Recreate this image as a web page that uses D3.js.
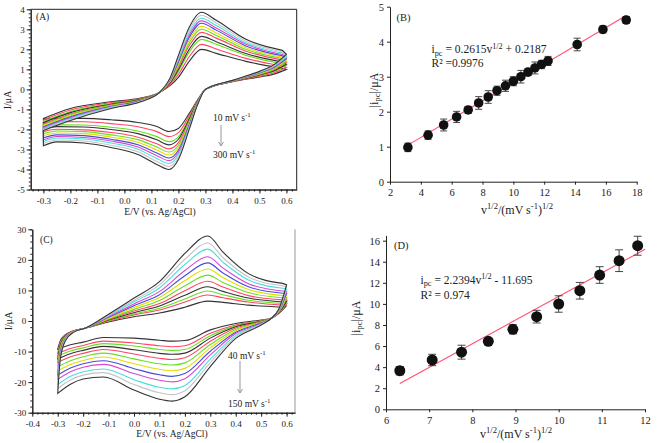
<!DOCTYPE html>
<html><head><meta charset="utf-8">
<script src="https://cdn.jsdelivr.net/npm/d3@7"></script>
<style>body{margin:0;background:#fff}</style>
</head><body>
<script>
// ---------- DATA ----------
const CV_COLORS = ["#333333","#ff4466","#66e020","#333333","#ff4466","#66e020","#e4dc00","#4a4ad8","#d548d5","#48dede","#c4c4c4","#333333"];

// Panel A : CVs 10 -> 300 mV/s
const A_E_fwd = [-0.3,-0.2,-0.05,0.06,0.13,0.17,0.2,0.24,0.285,0.34,0.45,0.585];
const A_I_fwd = [
[-1.45,-0.95,-0.62,-0.43,-0.15,0.20,0.60,1.40,2.00,1.80,1.40,1.05],
[-1.53,-1.03,-0.66,-0.46,-0.15,0.25,0.75,1.63,2.25,2.02,1.55,1.17],
[-1.61,-1.11,-0.71,-0.48,-0.15,0.31,0.90,1.86,2.50,2.25,1.70,1.29],
[-1.66,-1.16,-0.74,-0.50,-0.15,0.34,0.99,2.00,2.65,2.38,1.79,1.37],
[-1.73,-1.23,-0.77,-0.52,-0.15,0.38,1.11,2.18,2.85,2.56,1.91,1.46],
[-1.77,-1.27,-0.80,-0.53,-0.15,0.42,1.19,2.32,3.00,2.69,1.99,1.54],
[-1.82,-1.32,-0.82,-0.55,-0.15,0.45,1.28,2.45,3.15,2.82,2.08,1.61],
[-1.87,-1.37,-0.85,-0.56,-0.15,0.48,1.37,2.59,3.30,2.96,2.17,1.68],
[-1.91,-1.41,-0.87,-0.58,-0.15,0.51,1.45,2.71,3.42,3.07,2.25,1.74],
[-1.95,-1.45,-0.90,-0.59,-0.15,0.54,1.52,2.83,3.55,3.19,2.32,1.81],
[-2.00,-1.50,-0.92,-0.60,-0.15,0.57,1.61,2.96,3.70,3.32,2.41,1.88],
[-2.05,-1.55,-0.95,-0.62,-0.15,0.60,1.70,3.10,3.85,3.45,2.50,1.95]
];
const A_E_rev = [0.6,0.55,0.5,0.4,0.3,0.27,0.24,0.2,0.165,0.12,0.05,-0.05,-0.15,-0.25,-0.3];
const A_I_rev = [
[1.00,0.75,0.62,0.38,0,-0.55,-1.20,-1.95,-2.10,-1.85,-1.65,-1.52,-1.45,-1.45,-1.50],
[1.10,0.81,0.66,0.39,0,-0.58,-1.31,-2.16,-2.36,-2.11,-1.87,-1.71,-1.62,-1.61,-1.68],
[1.20,0.87,0.70,0.40,0,-0.62,-1.42,-2.37,-2.61,-2.36,-2.08,-1.89,-1.78,-1.77,-1.86],
[1.26,0.91,0.72,0.40,0,-0.64,-1.48,-2.49,-2.77,-2.52,-2.21,-2.00,-1.88,-1.86,-1.96],
[1.35,0.96,0.75,0.41,0,-0.67,-1.57,-2.66,-2.97,-2.72,-2.39,-2.15,-2.02,-1.99,-2.11],
[1.40,0.99,0.77,0.42,0,-0.69,-1.63,-2.79,-3.13,-2.88,-2.51,-2.27,-2.11,-2.08,-2.21],
[1.47,1.03,0.79,0.42,0,-0.71,-1.70,-2.91,-3.28,-3.03,-2.64,-2.38,-2.21,-2.18,-2.32],
[1.53,1.07,0.82,0.43,0,-0.73,-1.76,-3.04,-3.43,-3.18,-2.77,-2.49,-2.31,-2.27,-2.42],
[1.58,1.10,0.84,0.43,0,-0.74,-1.82,-3.14,-3.56,-3.31,-2.88,-2.58,-2.40,-2.35,-2.52],
[1.63,1.13,0.86,0.44,0,-0.76,-1.87,-3.25,-3.70,-3.45,-2.99,-2.68,-2.48,-2.43,-2.61],
[1.69,1.16,0.88,0.44,0,-0.78,-1.94,-3.38,-3.85,-3.60,-3.12,-2.79,-2.58,-2.53,-2.71],
[1.75,1.20,0.90,0.45,0,-0.80,-2.00,-3.50,-4.00,-3.75,-3.25,-2.90,-2.68,-2.62,-2.82]
];
const A_xTicks = [-0.3,-0.2,-0.1,0,0.1,0.2,0.3,0.4,0.5,0.6];
const A_yTicks = [-5,-4,-3,-2,-1,0,1,2,3,4];
const A_rateLabels = ["10 mV s", "300 mV s"];

// Panel C : CVs 40 -> 150 mV/s
const C_E_fwd = [-0.3,-0.29,-0.27,-0.24,-0.19,-0.1,0.0,0.1,0.2,0.29,0.35,0.45,0.585];
const C_I_fwd = [
[-9.2,-6.5,-4.5,-3.3,-2.3,-0.3,1.4,2.6,4.5,6.5,6.1,5.2,4.5],
[-10.6,-7.1,-4.7,-3.3,-2.3,-0.1,2.0,3.6,6.2,8.5,7.6,6.2,5.2],
[-11.4,-7.4,-4.8,-3.4,-2.3,0.1,2.3,4.2,7.2,9.8,8.6,6.8,5.7],
[-12.4,-7.8,-4.9,-3.4,-2.3,0.3,2.7,4.9,8.4,11.2,9.7,7.5,6.2],
[-13.6,-8.3,-5.1,-3.5,-2.3,0.5,3.3,5.7,9.9,13.0,11.1,8.3,6.9],
[-15.0,-8.9,-5.3,-3.5,-2.3,0.7,3.8,6.7,11.5,15.0,12.6,9.3,7.6],
[-16.3,-9.5,-5.5,-3.5,-2.3,0.9,4.4,7.7,13.2,17.0,14.2,10.3,8.3],
[-17.7,-10.0,-5.7,-3.6,-2.3,1.2,5.0,8.6,14.8,19.0,15.7,11.2,9.1],
[-19.1,-10.6,-5.9,-3.6,-2.3,1.4,5.6,9.6,16.5,21.0,17.3,12.2,9.8],
[-20.8,-11.3,-6.1,-3.7,-2.3,1.7,6.3,10.8,18.5,23.5,19.2,13.4,10.7],
[-22.1,-11.9,-6.3,-3.7,-2.3,1.9,6.8,11.8,20.2,25.5,20.7,14.4,11.5],
[-23.7,-12.5,-6.5,-3.8,-2.3,2.2,7.5,12.9,22.1,27.8,22.5,15.5,12.3]
];
const C_E_rev = [0.6,0.57,0.54,0.5,0.4,0.3,0.2,0.15,0.1,0.0,-0.12,-0.2,-0.25,-0.3];
const C_I_rev = [
[5.0,2.5,0.9,0.3,-0.8,-2.9,-6.4,-6.6,-6.3,-5.6,-5.4,-6.9,-7.8,-9.2],
[5.6,2.6,0.9,0.1,-1.3,-4.0,-8.1,-8.4,-8.1,-7.2,-6.6,-8.0,-9.0,-10.6],
[6.1,2.7,0.9,0.1,-1.6,-4.8,-9.3,-9.6,-9.3,-8.2,-7.4,-8.8,-9.8,-11.4],
[6.5,2.8,0.9,-0.1,-1.9,-5.6,-10.5,-10.9,-10.6,-9.4,-8.3,-9.6,-10.7,-12.4],
[7.1,3.0,0.9,-0.2,-2.3,-6.6,-12.0,-12.6,-12.2,-10.8,-9.3,-10.6,-11.7,-13.6],
[7.7,3.1,0.9,-0.3,-2.8,-7.7,-13.7,-14.4,-14.0,-12.4,-10.5,-11.7,-13.0,-15.0],
[8.4,3.2,0.9,-0.5,-3.2,-8.8,-15.5,-16.3,-15.8,-14.0,-11.8,-12.9,-14.2,-16.3],
[9.0,3.4,0.9,-0.6,-3.7,-9.9,-17.2,-18.1,-17.6,-15.6,-13.0,-14.0,-15.4,-17.7],
[9.6,3.5,0.9,-0.8,-4.1,-11.1,-18.9,-19.9,-19.4,-17.2,-14.2,-15.1,-16.6,-19.1],
[10.4,3.7,0.9,-1.0,-4.7,-12.5,-21.1,-22.2,-21.7,-19.2,-15.7,-16.6,-18.1,-20.8],
[11.1,3.8,0.9,-1.1,-5.2,-13.6,-22.8,-24.1,-23.5,-20.8,-16.9,-17.7,-19.3,-22.1],
[11.8,4.0,0.9,-1.3,-5.7,-14.9,-24.8,-26.2,-25.6,-22.6,-18.3,-19.0,-20.7,-23.7]
];
const C_xTicks = [-0.4,-0.3,-0.2,-0.1,0,0.1,0.2,0.3,0.4,0.5,0.6];
const C_yTicks = [-30,-20,-10,0,10,20,30];
const C_rateLabels = ["40 mV s", "150 mV s"];

// Panel B : |ipc| vs v^1/2
const B_x   = [3.16,4.47,5.48,6.32,7.07,7.75,8.37,8.94,9.49,10.0,10.49,10.95,11.4,11.83,12.25,14.14,15.81,17.32];
const B_y   = [0.98,1.33,1.62,1.85,2.05,2.25,2.42,2.60,2.74,2.87,3.00,3.13,3.25,3.35,3.45,3.92,4.35,4.62];
const B_err = [0.12,0.12,0.17,0.16,0.10,0.18,0.18,0.13,0.16,0.13,0.18,0.10,0.17,0.12,0.13,0.18,0.10,0.10];
const B_slope = 0.2615, B_intercept = 0.2187;
const B_xTicks = [2,4,6,8,10,12,14,16,18];
const B_yTicks = [0,1,2,3,4,5];

// Panel D
const D_x   = [6.32,7.07,7.75,8.37,8.94,9.49,10.0,10.49,10.95,11.4,11.83];
const D_y   = [3.66,4.68,5.42,6.45,7.59,8.79,9.99,11.25,12.74,14.10,15.52];
const D_err = [0.40,0.54,0.66,0.27,0.43,0.60,0.78,0.79,0.79,1.03,0.90];
const D_slope = 2.2394, D_intercept = -11.695;
const D_xTicks = [6,7,8,9,10,11,12];
const D_yTicks = [0,2,4,6,8,10,12,14,16];

// ---------- DRAW ----------
const FONT = "'Liberation Serif','Times New Roman',serif";
const INK = "#222";
const svg = d3.select("body").append("svg")
  .attr("width", 661).attr("height", 443)
  .style("font-family", FONT);

function rich(sel, parts, size) {
  let shift = 0;
  parts.forEach(([t, k]) => {
    const target = k === "sup" ? -size * 0.38 : k === "sub" ? size * 0.22 : 0;
    sel.append("tspan").attr("dy", target - shift)
      .attr("font-size", k === "n" ? size : size * 0.72).text(t);
    shift = target;
  });
}

function styleAxis(g, fs) {
  g.attr("font-family", FONT).attr("font-size", fs);
  g.selectAll("path,line").attr("stroke", INK);
  g.selectAll("text").attr("fill", INK);
}

function cvPanel(o) {
  const x = d3.scaleLinear().domain(o.xDom).range(o.xRng);
  const y = d3.scaleLinear().domain(o.yDom).range(o.yRng);
  const g = svg.append("g");
  const xb = o.yRng[0], yl = o.xRng[0];
  // frame
  if (o.top) g.append("line").attr("x1", o.xRng[0]).attr("x2", o.xRng[1]).attr("y1", o.yRng[1]).attr("y2", o.yRng[1]).attr("stroke", INK);
  g.append("line").attr("x1", o.xRng[1]).attr("x2", o.xRng[1]).attr("y1", o.yRng[0]).attr("y2", o.yRng[1]).attr("stroke", o.rightColor || INK);
  // minor ticks
  const xm = d3.range(Math.ceil(o.xDom[0] / o.xMin) * o.xMin, o.xDom[1], o.xMin);
  const ym = d3.range(o.yDom[0], o.yDom[1] + 1e-9, o.yMin);
  styleAxis(g.append("g").attr("transform", `translate(0,${xb})`)
    .call(d3.axisBottom(x).tickValues(xm).tickSize(2).tickSizeOuter(0).tickFormat("")), 9);
  styleAxis(g.append("g").attr("transform", `translate(${yl},0)`)
    .call(d3.axisLeft(y).tickValues(ym).tickSize(2).tickSizeOuter(0).tickFormat("")), 9);
  // major axes
  styleAxis(g.append("g").attr("transform", `translate(0,${xb})`)
    .call(d3.axisBottom(x).tickValues(o.xTicks).tickSize(4).tickPadding(4).tickSizeOuter(0).tickFormat(d => d.toFixed(1))), 9);
  styleAxis(g.append("g").attr("transform", `translate(${yl},0)`)
    .call(d3.axisLeft(y).tickValues(o.yTicks).tickSize(4).tickPadding(2).tickSizeOuter(0).tickFormat(d => String(d))), 9);
  // curves
  const line = d3.line().x(d => x(d[0])).y(d => y(d[1])).curve(d3.curveMonotoneX);
  o.fwd.forEach((row, i) => {
    const up = o.Ef.map((e, j) => [e, row[j]]);
    const lo = o.Er.map((e, j) => [e, o.rev[i][j]]);
    const d = line(up) + line(lo).replace(/^M/, "L") + "Z";
    g.append("path").attr("d", d).attr("fill", "none")
      .attr("stroke", CV_COLORS[i]).attr("stroke-width", 1.1);
  });
  // labels
  g.append("text").attr("x", o.tag[0]).attr("y", o.tag[1]).attr("font-size", 9.5).attr("fill", INK).text(o.tagText);
  g.append("text").attr("x", o.xlab[0]).attr("y", o.xlab[1]).attr("text-anchor", "middle")
    .attr("font-size", 9.5).attr("fill", INK).text("E/V (vs. Ag/AgCl)");
  g.append("text").attr("transform", `translate(${o.ylab[0]},${o.ylab[1]}) rotate(-90)`)
    .attr("text-anchor", "middle").attr("font-size", 10).attr("fill", INK).text("I/μA");
  // rate annotation + arrow
  rich(g.append("text").attr("x", o.r1[0]).attr("y", o.r1[1]).attr("fill", INK), [[o.rates[0], "n"], ["-1", "sup"]], 9.5);
  rich(g.append("text").attr("x", o.r2[0]).attr("y", o.r2[1]).attr("fill", INK), [[o.rates[1], "n"], ["-1", "sup"]], 9.5);
  g.append("line").attr("x1", o.arrow[0]).attr("x2", o.arrow[0]).attr("y1", o.arrow[1]).attr("y2", o.arrow[2])
    .attr("stroke", "#999").attr("stroke-width", 1);
  g.append("path").attr("d", `M${o.arrow[0]-2.5},${o.arrow[2]-4} L${o.arrow[0]},${o.arrow[2]} L${o.arrow[0]+2.5},${o.arrow[2]-4}`)
    .attr("fill", "none").attr("stroke", "#999").attr("stroke-width", 1);
}

cvPanel({
  xDom: [-0.347, 0.638], xRng: [30.7, 296.7], yDom: [-5, 4], yRng: [189.5, 9.3],
  xTicks: A_xTicks, yTicks: A_yTicks, xMin: 0.02, yMin: 0.2, top: true,
  Ef: A_E_fwd, fwd: A_I_fwd, Er: A_E_rev, rev: A_I_rev,
  tag: [36, 19.5], tagText: "(A)", xlab: [160, 215], ylab: [10.5, 100],
  rates: A_rateLabels, r1: [213, 121], r2: [213, 157.5], arrow: [221, 125, 146]
});
cvPanel({
  xDom: [-0.4, 0.633], xRng: [32.3, 295], yDom: [-30, 30], yRng: [412.7, 229.3],
  xTicks: C_xTicks, yTicks: C_yTicks, xMin: 0.02, yMin: 2, top: false, rightColor: "#999",
  Ef: C_E_fwd, fwd: C_I_fwd, Er: C_E_rev, rev: C_I_rev,
  tag: [40, 242.5], tagText: "(C)", xlab: [172, 437], ylab: [11.5, 321],
  rates: C_rateLabels, r1: [228, 359], r2: [228, 406.5], arrow: [240, 361, 393]
});

function fitPanel(o) {
  const x = d3.scaleLinear().domain(o.xDom).range(o.xRng);
  const y = d3.scaleLinear().domain(o.yDom).range(o.yRng);
  const g = svg.append("g");
  styleAxis(g.append("g").attr("transform", `translate(0,${o.yRng[0]})`)
    .call(d3.axisBottom(x).tickValues(o.xTicks).tickSize(3).tickPadding(4).tickSizeOuter(0).tickFormat(d => String(d))), 10.5);
  styleAxis(g.append("g").attr("transform", `translate(${o.xRng[0]},0)`)
    .call(d3.axisLeft(y).tickValues(o.yTicks).tickSize(3).tickPadding(3).tickSizeOuter(0).tickFormat(d => String(d))), 10.5);
  // fit line
  const x0 = o.xs[0], x1 = o.fitEnd;
  g.append("line").attr("x1", x(x0)).attr("y1", y(o.slope * x0 + o.icpt))
    .attr("x2", x(x1)).attr("y2", y(o.slope * x1 + o.icpt))
    .attr("stroke", "#ff5070").attr("stroke-width", 1.1);
  // error bars
  o.xs.forEach((xv, i) => {
    const cx = x(xv), t = y(o.ys[i] + o.err[i]), b = y(o.ys[i] - o.err[i]);
    g.append("line").attr("x1", cx).attr("x2", cx).attr("y1", t).attr("y2", b).attr("stroke", "#333").attr("stroke-width", 0.9);
    [t, b].forEach(v => g.append("line").attr("x1", cx - o.cap).attr("x2", cx + o.cap).attr("y1", v).attr("y2", v).attr("stroke", "#333").attr("stroke-width", 0.9));
  });
  g.selectAll("circle.pt").data(o.xs).join("circle").attr("class", "pt")
    .attr("cx", d => x(d)).attr("cy", (d, i) => y(o.ys[i])).attr("r", o.r).attr("fill", "#111");
  // texts
  g.append("text").attr("x", o.tag[0]).attr("y", o.tag[1]).attr("font-size", 10.5).attr("fill", INK).text(o.tagText);
  rich(g.append("text").attr("x", o.eq[0]).attr("y", o.eq[1]).attr("fill", INK), o.eqParts, 11.5);
  g.append("text").attr("x", o.eq[0]).attr("y", o.eq[2]).attr("font-size", 11.5).attr("fill", INK).text(o.r2);
  rich(g.append("text").attr("transform", `translate(${o.ylab[0]},${o.ylab[1]}) rotate(-90)`)
    .attr("text-anchor", "middle").attr("fill", INK), [["|i", "n"], ["pc", "sub"], ["|/μA", "n"]], 12);
  rich(g.append("text").attr("x", o.xlab[0]).attr("y", o.xlab[1]).attr("text-anchor", "middle").attr("fill", INK),
    [["v", "n"], ["1/2", "sup"], ["/(mV s", "n"], ["-1", "sup"], [")", "n"], ["1/2", "sup"]], 12);
}

fitPanel({
  xDom: [2, 18], xRng: [390, 636.7], yDom: [0, 5], yRng: [181.7, 6.7],
  xTicks: B_xTicks, yTicks: B_yTicks, xs: B_x, ys: B_y, err: B_err,
  slope: B_slope, icpt: B_intercept, fitEnd: 17.32, r: 4.8, cap: 3.5,
  tag: [396.5, 20.5], tagText: "(B)",
  eq: [431.5, 53, 67], eqParts: [["i", "n"], ["pc", "sub"], [" = 0.2615v", "n"], ["1/2", "sup"], [" + 0.2187", "n"]],
  r2: "R² =0.9976", ylab: [377.5, 90], xlab: [517, 214]
});
fitPanel({
  xDom: [6, 12], xRng: [386, 645], yDom: [0, 16.5], yRng: [409.3, 235.4],
  xTicks: D_xTicks, yTicks: D_yTicks, xs: D_x, ys: D_y, err: D_err,
  slope: D_slope, icpt: D_intercept, fitEnd: 12, r: 5.5, cap: 4,
  tag: [394, 248.5], tagText: "(D)",
  eq: [420.5, 283.5, 299], eqParts: [["i", "n"], ["pc", "sub"], [" = 2.2394v", "n"], ["1/2", "sup"], [" - 11.695", "n"]],
  r2: "R² = 0.974", ylab: [359.5, 318], xlab: [516, 438]
});
</script>
</body></html>
